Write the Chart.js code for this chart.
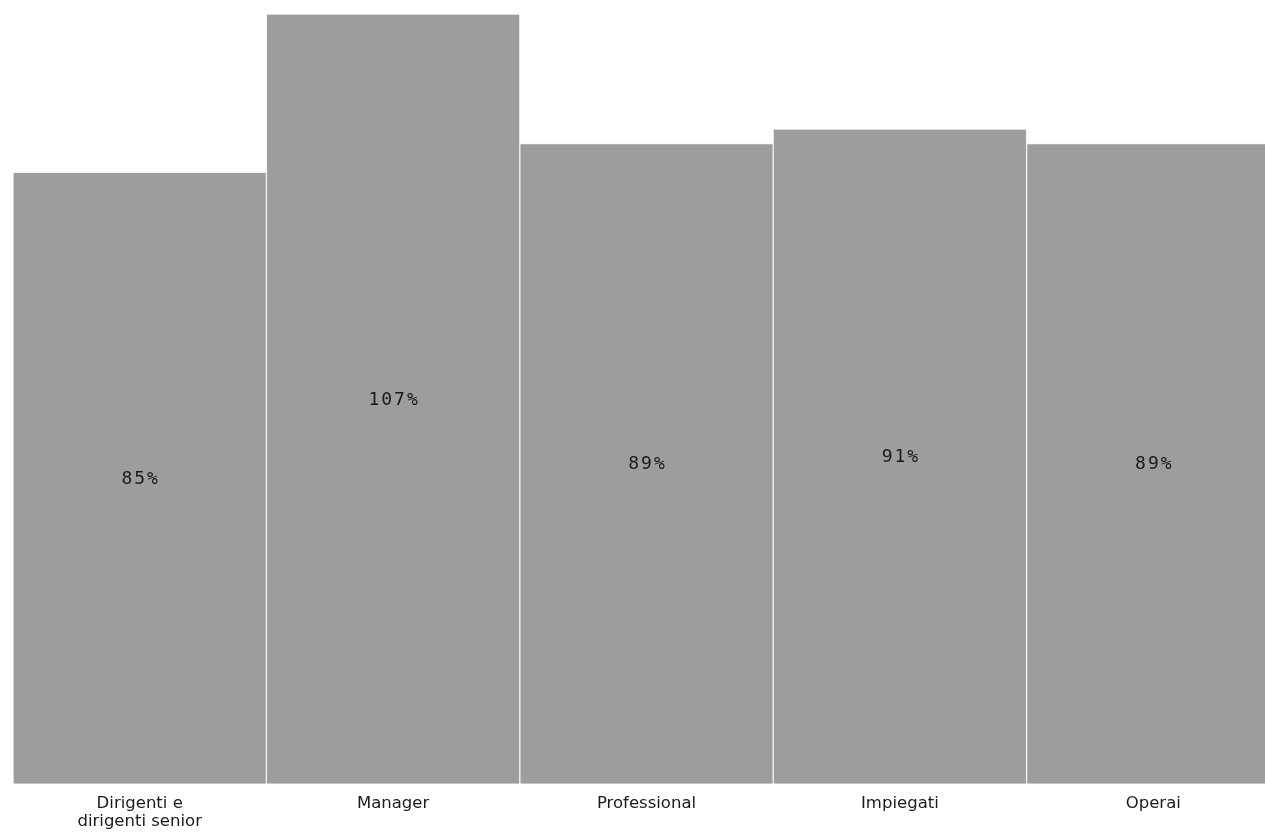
<!DOCTYPE html>
<html>
<head>
<meta charset="utf-8">
<script src="https://cdn.jsdelivr.net/npm/chart.js@4"></script>
<style>
  html, body { margin: 0; padding: 0; background: #fff; overflow: hidden; }
  #wrap { width: 1280px; height: 833px; }
</style>
</head>
<body>
<div id="wrap"><canvas id="grafico"></canvas></div>
<script>
const categorie = [['Dirigenti e', 'dirigenti senior'], 'Manager', 'Professional', 'Impiegati', 'Operai'];
const valori = [85, 107, 89, 91, 89];
const etichette = ['85%', '107%', '89%', '91%', '89%'];

// scrive la percentuale al centro di ogni barra
const etichetteBarre = {
  id: 'etichetteBarre',
  afterDatasetsDraw(chart) {
    const ctx = chart.ctx;
    const meta = chart.getDatasetMeta(0);
    ctx.save();
    ctx.font = '18px "DejaVu Sans Mono", monospace';
    if ('letterSpacing' in ctx) ctx.letterSpacing = '2px';
    ctx.fillStyle = '#1a1a1a';
    ctx.textAlign = 'center';
    ctx.textBaseline = 'middle';
    meta.data.forEach((bar, i) => {
      const y = (bar.y + bar.base) / 2;
      ctx.fillText(etichette[i], bar.x + 1, y + 1);
    });
    ctx.restore();
  }
};

new Chart(document.getElementById('grafico'), {
  type: 'bar',
  data: {
    labels: categorie,
    datasets: [{
      data: valori,
      backgroundColor: '#9d9d9b',
      borderColor: '#f2f2f2',
      borderWidth: 1,
      categoryPercentage: 1,
      barPercentage: 1
    }]
  },
  options: {
    responsive: true,
    maintainAspectRatio: false,
    animation: false,
    layout: { padding: { left: 13, top: 14, right: 0, bottom: -9 } },
    plugins: {
      legend: { display: false },
      tooltip: { enabled: false }
    },
    scales: {
      x: {
        grid: { display: false, drawTicks: false },
        border: { display: false },
        ticks: {
          color: '#1a1a1a',
          font: { family: '"DejaVu Sans", sans-serif', size: 16.5, lineHeight: 1.1 },
          padding: 11,
          maxRotation: 0
        }
      },
      y: {
        display: false,
        min: 0,
        max: 107
      }
    }
  },
  plugins: [etichetteBarre]
});
</script>
</body>
</html>
